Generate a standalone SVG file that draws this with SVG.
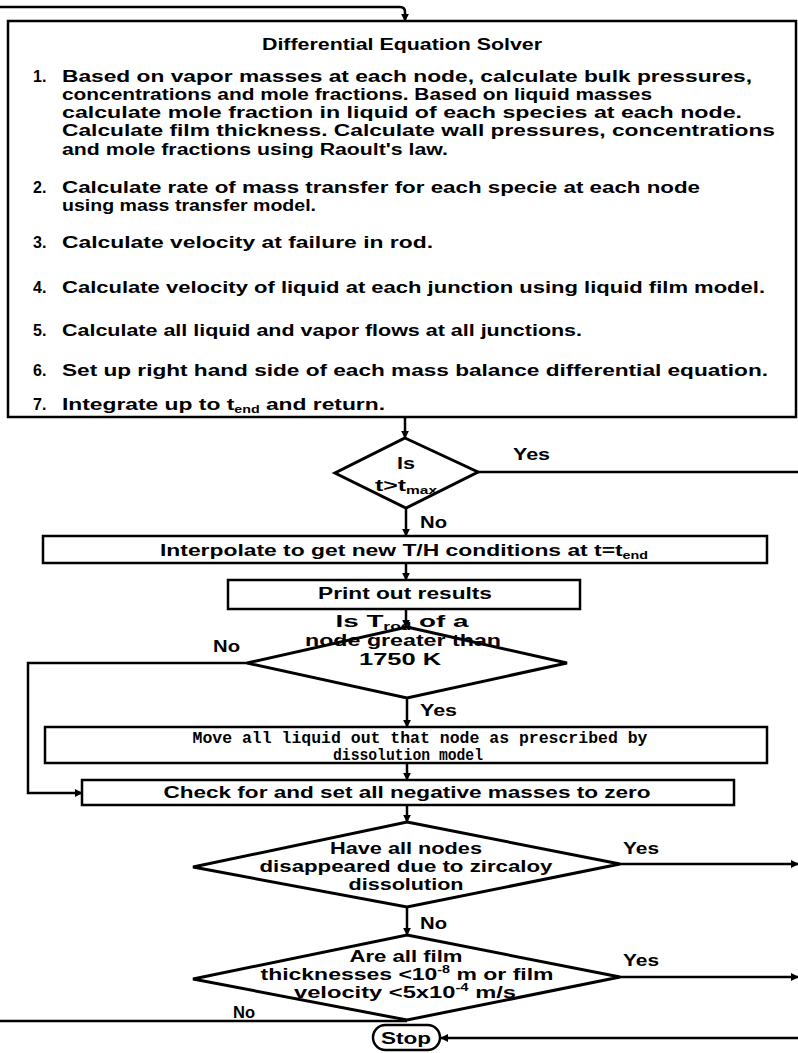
<svg xmlns="http://www.w3.org/2000/svg" width="798" height="1053" viewBox="0 0 798 1053">
<defs>
<marker id="ah" viewBox="0 0 10 10" refX="9" refY="5" markerWidth="3.2" markerHeight="3.2" orient="auto" markerUnits="strokeWidth">
<path d="M0,0 L10,5 L0,10 z" fill="#000"/>
</marker>
</defs>
<style>
.box{fill:#fff;stroke:#000;stroke-width:2.5}
.dia{fill:#fff;stroke:#000;stroke-width:3}
.ln{fill:none;stroke:#000;stroke-width:2.5}
.t{font-family:"Liberation Sans",Arial,sans-serif;font-weight:bold;font-size:16px;fill:#000}
.c{text-anchor:middle}
.m{font-family:"Liberation Mono","DejaVu Sans Mono",monospace;font-weight:bold;font-size:17px;fill:#000}
.sub{font-size:10px}
</style>
<rect width="798" height="1053" fill="#fff"/>

<g id="connectors">
<path class="ln" d="M0,7 H400 Q405,7 405,12 V21" marker-end="url(#ah)"/>
<path class="ln" d="M405,417 V438" marker-end="url(#ah)"/>
<path class="ln" d="M478,472 H798"/>
<path class="ln" d="M406,508 V536" marker-end="url(#ah)"/>
<path class="ln" d="M406,563 V580" marker-end="url(#ah)"/>
<path class="ln" d="M406,609 V627" marker-end="url(#ah)"/>
<path class="ln" d="M247,663 H28 V793 H82" marker-end="url(#ah)"/>
<path class="ln" d="M407,698 V727" marker-end="url(#ah)"/>
<path class="ln" d="M407,763 V780" marker-end="url(#ah)"/>
<path class="ln" d="M407,805 V822" marker-end="url(#ah)"/>
<path class="ln" d="M620,864 H798" marker-end="url(#ah)"/>
<path class="ln" d="M407,907 V935" marker-end="url(#ah)"/>
<path class="ln" d="M620,977 H798" marker-end="url(#ah)"/>
<path class="ln" d="M407,1021 H0"/>
<path class="ln" d="M798,1038 H441" marker-end="url(#ah)"/>
</g>

<g id="solver">
<rect class="box" x="8" y="21" width="788" height="396"/>
<text class="t c" x="402" y="50" textLength="280" lengthAdjust="spacingAndGlyphs" font-size="17">Differential Equation Solver</text>
<text class="t" x="33" y="82">1.</text>
<text class="t" x="62" y="82" textLength="690" lengthAdjust="spacingAndGlyphs">Based on vapor masses at each node, calculate bulk pressures,</text>
<text class="t" x="62" y="100" textLength="590" lengthAdjust="spacingAndGlyphs">concentrations and mole fractions.  Based on liquid masses</text>
<text class="t" x="62" y="118" textLength="680" lengthAdjust="spacingAndGlyphs">calculate mole fraction in liquid of each species at each node.</text>
<text class="t" x="62" y="136" textLength="713" lengthAdjust="spacingAndGlyphs">Calculate film thickness.  Calculate wall pressures, concentrations</text>
<text class="t" x="62" y="155" textLength="386" lengthAdjust="spacingAndGlyphs">and mole fractions using Raoult's law.</text>
<text class="t" x="33" y="193">2.</text>
<text class="t" x="62" y="193" textLength="638" lengthAdjust="spacingAndGlyphs">Calculate rate of mass transfer for each specie at each node</text>
<text class="t" x="62" y="211" textLength="254" lengthAdjust="spacingAndGlyphs">using mass transfer model.</text>
<text class="t" x="33" y="248">3.</text>
<text class="t" x="62" y="248" textLength="371" lengthAdjust="spacingAndGlyphs">Calculate velocity at failure in rod.</text>
<text class="t" x="33" y="293">4.</text>
<text class="t" x="62" y="293" textLength="703" lengthAdjust="spacingAndGlyphs">Calculate velocity of liquid at each junction using liquid film model.</text>
<text class="t" x="33" y="336">5.</text>
<text class="t" x="62" y="336" textLength="520" lengthAdjust="spacingAndGlyphs">Calculate all liquid and vapor flows at all junctions.</text>
<text class="t" x="33" y="376">6.</text>
<text class="t" x="62" y="376" textLength="706" lengthAdjust="spacingAndGlyphs">Set up right hand side of each mass balance differential equation.</text>
<text class="t" x="33" y="410">7.</text>
<text class="t" x="62" y="410" textLength="323" lengthAdjust="spacingAndGlyphs">Integrate up to t<tspan class="sub" dy="3">end</tspan><tspan dy="-3"> and return.</tspan></text>
</g>

<g id="d1">
<polygon class="dia" points="405,438 478,472 406,508 335,473"/>
<text class="t c" x="406" y="469" textLength="18" lengthAdjust="spacingAndGlyphs">Is</text>
<text class="t c" x="406" y="491" textLength="62" lengthAdjust="spacingAndGlyphs">t&gt;t<tspan class="sub" dy="3">max</tspan></text>
<text class="t" x="513" y="460" textLength="37" lengthAdjust="spacingAndGlyphs">Yes</text>
<text class="t" x="420" y="528" textLength="27" lengthAdjust="spacingAndGlyphs">No</text>
</g>

<g id="interp">
<rect class="box" x="43" y="536" width="724" height="27"/>
<text class="t c" x="404" y="556" textLength="488" lengthAdjust="spacingAndGlyphs">Interpolate to get new T/H conditions at t=t<tspan class="sub" dy="3">end</tspan></text>
</g>

<g id="print">
<rect class="box" x="228" y="580" width="352" height="29"/>
<text class="t c" x="405" y="599" textLength="174" lengthAdjust="spacingAndGlyphs">Print out results</text>
</g>

<g id="d2">
<polygon class="dia" points="407,627 567,663 407,698 247,663"/>
<text class="t c" x="402" y="627" textLength="133" lengthAdjust="spacingAndGlyphs" font-size="15">Is T<tspan class="sub" dy="3">rod</tspan><tspan dy="-3"> of a</tspan></text>
<text class="t c" x="403" y="646" textLength="196" lengthAdjust="spacingAndGlyphs" font-size="15">node greater than</text>
<text class="t c" x="400" y="665" textLength="82" lengthAdjust="spacingAndGlyphs" font-size="15">1750 K</text>
<text class="t" x="213" y="652" textLength="27" lengthAdjust="spacingAndGlyphs">No</text>
<text class="t" x="420" y="716" textLength="37" lengthAdjust="spacingAndGlyphs">Yes</text>
</g>

<g id="move">
<rect class="box" x="45" y="727" width="722" height="36"/>
<text class="m c" x="420" y="743" textLength="455" lengthAdjust="spacingAndGlyphs">Move all liquid out that node as prescribed by</text>
<text class="m c" x="408" y="760" textLength="150" lengthAdjust="spacingAndGlyphs">dissolution model</text>
</g>

<g id="check">
<rect class="box" x="82" y="780" width="652" height="25"/>
<text class="t c" x="407" y="798" textLength="487" lengthAdjust="spacingAndGlyphs">Check for and set all negative masses to zero</text>
</g>

<g id="d3">
<polygon class="dia" points="407,822 620,864 407,907 193,867"/>
<text class="t c" x="406" y="854" textLength="152" lengthAdjust="spacingAndGlyphs">Have all nodes</text>
<text class="t c" x="406" y="872" textLength="293" lengthAdjust="spacingAndGlyphs">disappeared due to zircaloy</text>
<text class="t c" x="406" y="890" textLength="115" lengthAdjust="spacingAndGlyphs">dissolution</text>
<text class="t" x="623" y="854" textLength="36" lengthAdjust="spacingAndGlyphs">Yes</text>
<text class="t" x="420" y="929" textLength="27" lengthAdjust="spacingAndGlyphs">No</text>
</g>

<g id="d4">
<polygon class="dia" points="407,935 620,977 407,1020 193,979"/>
<text class="t c" x="406" y="962" textLength="113" lengthAdjust="spacingAndGlyphs">Are all film</text>
<text class="t c" x="407" y="980" textLength="293" lengthAdjust="spacingAndGlyphs">thicknesses &lt;10<tspan class="sub" dy="-7">-8</tspan><tspan dy="7"> m or film</tspan></text>
<text class="t c" x="405" y="998" textLength="222" lengthAdjust="spacingAndGlyphs">velocity &lt;5x10<tspan class="sub" dy="-7">-4</tspan><tspan dy="7"> m/s</tspan></text>
<text class="t" x="623" y="966" textLength="36" lengthAdjust="spacingAndGlyphs">Yes</text>
<text class="t" x="233" y="1018" textLength="22" lengthAdjust="spacingAndGlyphs">No</text>
</g>

<g id="stop">
<rect class="box" x="373" y="1025" width="67" height="25" rx="12.5"/>
<text class="t c" x="406" y="1044" textLength="50" lengthAdjust="spacingAndGlyphs" font-size="18">Stop</text>
</g>
</svg>
